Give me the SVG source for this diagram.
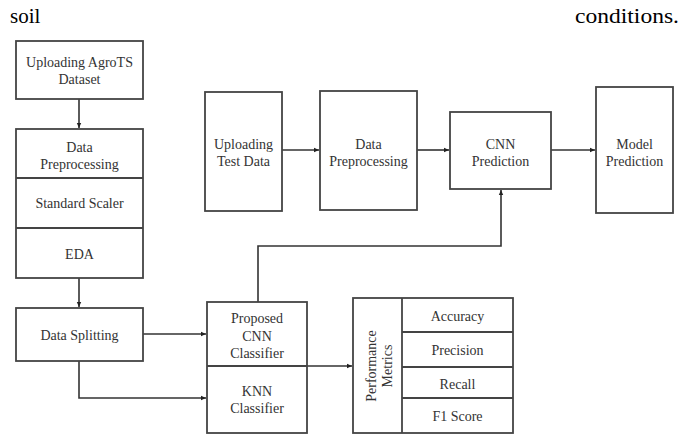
<svg xmlns="http://www.w3.org/2000/svg" width="681" height="438" viewBox="0 0 681 438">
<defs>
<marker id="ah" markerWidth="6" markerHeight="6" refX="5" refY="3" orient="auto" markerUnits="userSpaceOnUse">
<path d="M0,0.8 L5,3 L0,5.2 Z" fill="#222"/>
</marker>
<style>
.box{fill:#fff;stroke:#444;stroke-width:1.8}
.t{font-family:'Liberation Serif','DejaVu Serif',serif;font-size:14px;fill:#333;text-anchor:middle}
.c{fill:none;stroke:#333;stroke-width:1.6}
.top{font-family:'Liberation Serif','DejaVu Serif',serif;font-size:21px;fill:#000}
</style>
</defs>
<rect width="681" height="438" fill="#fff"/>
<text class="top" x="10" y="23">soil</text>
<text class="top" x="575" y="23" textLength="104" lengthAdjust="spacingAndGlyphs">conditions.</text>

<g id="connectors">
<path class="c" d="M79,99 V128" marker-end="url(#ah)"/>
<path class="c" d="M79,278 V307" marker-end="url(#ah)"/>
<path class="c" d="M143,334 H206" marker-end="url(#ah)"/>
<path class="c" d="M79,361 V398 H206" marker-end="url(#ah)"/>
<path class="c" d="M307,366 H352" marker-end="url(#ah)"/>
<path class="c" d="M282,150 H319" marker-end="url(#ah)"/>
<path class="c" d="M417,150 H449" marker-end="url(#ah)"/>
<path class="c" d="M551,150 H595" marker-end="url(#ah)"/>
<path class="c" d="M258,302 V246 H501 V190" marker-end="url(#ah)"/>
</g>

<g id="uploading-agrots">
<rect class="box" x="16" y="41" width="127" height="58"/>
<text class="t" x="79.5" y="67">Uploading AgroTS</text>
<text class="t" x="79.5" y="84">Dataset</text>
</g>
<g id="preprocessing-stack">
<rect class="box" x="16" y="129" width="127" height="149"/>
<line class="box" x1="16" y1="178" x2="143" y2="178"/>
<line class="box" x1="16" y1="228" x2="143" y2="228"/>
<text class="t" x="79.5" y="152">Data</text>
<text class="t" x="79.5" y="169">Preprocessing</text>
<text class="t" x="79.5" y="208">Standard Scaler</text>
<text class="t" x="79.5" y="259">EDA</text>
</g>
<g id="data-splitting">
<rect class="box" x="16" y="308" width="127" height="53"/>
<text class="t" x="79.5" y="340">Data Splitting</text>
</g>
<g id="classifiers">
<rect class="box" x="207" y="302" width="100" height="131"/>
<line class="box" x1="207" y1="366" x2="307" y2="366"/>
<text class="t" x="257" y="323">Proposed</text>
<text class="t" x="257" y="341">CNN</text>
<text class="t" x="257" y="358">Classifier</text>
<text class="t" x="257" y="396">KNN</text>
<text class="t" x="257" y="413">Classifier</text>
</g>
<g id="performance-metrics">
<rect class="box" x="353" y="298" width="160" height="135"/>
<line class="box" x1="402" y1="298" x2="402" y2="433"/>
<line class="box" x1="402" y1="332" x2="513" y2="332"/>
<line class="box" x1="402" y1="367" x2="513" y2="367"/>
<line class="box" x1="402" y1="398" x2="513" y2="398"/>
<text class="t" transform="translate(376,366) rotate(-90)">Performance</text>
<text class="t" transform="translate(392,366) rotate(-90)">Metrics</text>
<text class="t" x="457.5" y="321">Accuracy</text>
<text class="t" x="457.5" y="355">Precision</text>
<text class="t" x="457.5" y="389">Recall</text>
<text class="t" x="457.5" y="421">F1 Score</text>
</g>
<g id="uploading-test-data">
<rect class="box" x="205" y="92" width="77" height="119"/>
<text class="t" x="243.5" y="149">Uploading</text>
<text class="t" x="243.5" y="166">Test Data</text>
</g>
<g id="data-preprocessing-2">
<rect class="box" x="320" y="91" width="97" height="119"/>
<text class="t" x="368.5" y="149">Data</text>
<text class="t" x="368.5" y="166">Preprocessing</text>
</g>
<g id="cnn-prediction">
<rect class="box" x="450" y="112" width="101" height="77"/>
<text class="t" x="500.5" y="149">CNN</text>
<text class="t" x="500.5" y="166">Prediction</text>
</g>
<g id="model-prediction">
<rect class="box" x="596" y="87" width="77" height="126"/>
<text class="t" x="634.5" y="149">Model</text>
<text class="t" x="634.5" y="166">Prediction</text>
</g>
</svg>
